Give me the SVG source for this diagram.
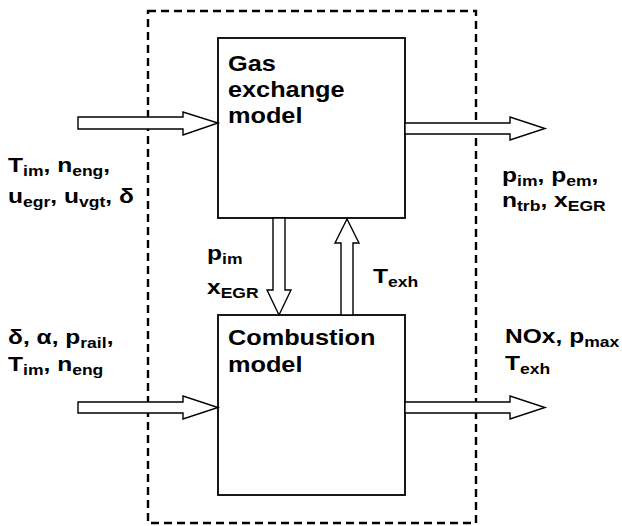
<svg xmlns="http://www.w3.org/2000/svg" width="622" height="526" viewBox="0 0 622 526">
<style>
.box{fill:#fff;stroke:#000;stroke-width:1.8}
.arr{fill:#fff;stroke:#000;stroke-width:1.4;stroke-linejoin:miter}
.bnd{fill:none;stroke:#000;stroke-width:2.4;stroke-dasharray:8 5}
text{font-family:"Liberation Sans",Arial,sans-serif;font-weight:bold;fill:#000}
.bl{font-size:22px}
.lb{font-size:21px}
.s{font-size:15px}
</style>
<rect class="bnd" x="148" y="11" width="328" height="512"/>
<g id="gas">
<rect class="box" x="218" y="38" width="187" height="180"/>
<text class="bl" transform="translate(228,71) scale(1.15,1)">Gas</text>
<text class="bl" transform="translate(228,97) scale(1.15,1)">exchange</text>
<text class="bl" transform="translate(228,123) scale(1.15,1)">model</text>
</g>
<g id="comb">
<rect class="box" x="218" y="315" width="187" height="180"/>
<text class="bl" transform="translate(228,345) scale(1.15,1)">Combustion</text>
<text class="bl" transform="translate(228,372) scale(1.15,1)">model</text>
</g>
<g id="connectors">
<polygon class="arr" points="78,117 183,117 183,112 218,123 183,135 183,129 78,129"/>
<polygon class="arr" points="405,123 510,123 510,117 545,128.5 510,140 510,134 405,134"/>
<polygon class="arr" points="273,218 285,218 285,290 291,290 279,315 267,290 273,290"/>
<polygon class="arr" points="341,315 353,315 353,243 359,243 347,219 335,243 341,243"/>
<polygon class="arr" points="78,402 183,402 183,396 218,407.5 183,419 183,413 78,413"/>
<polygon class="arr" points="405,402 510,402 510,396 545,407.5 510,419 510,413 405,413"/>
</g>
<g id="labels">
<text class="lb" transform="translate(8,172) scale(1.17,1)">T<tspan class="s" dy="4">im</tspan><tspan dy="-4">, n</tspan><tspan class="s" dy="4">eng</tspan><tspan dy="-4">,</tspan></text>
<text class="lb" transform="translate(8,203) scale(1.17,1)">u<tspan class="s" dy="4">egr</tspan><tspan dy="-4">, u</tspan><tspan class="s" dy="4">vgt</tspan><tspan dy="-4">, δ</tspan></text>
<text class="lb" transform="translate(502,182) scale(1.17,1)">p<tspan class="s" dy="4">im</tspan><tspan dy="-4">, p</tspan><tspan class="s" dy="4">em</tspan><tspan dy="-4">,</tspan></text>
<text class="lb" transform="translate(502,207) scale(1.17,1)">n<tspan class="s" dy="4">trb</tspan><tspan dy="-4">, x</tspan><tspan class="s" dy="4">EGR</tspan></text>
<text class="lb" transform="translate(207,260) scale(1.17,1)">p<tspan class="s" dy="4">im</tspan></text>
<text class="lb" transform="translate(207,294) scale(1.17,1)">x<tspan class="s" dy="4">EGR</tspan></text>
<text class="lb" transform="translate(373,283) scale(1.17,1)">T<tspan class="s" dy="4">exh</tspan></text>
<text class="lb" transform="translate(8,344) scale(1.17,1)">δ, α, p<tspan class="s" dy="4">rail</tspan><tspan dy="-4">,</tspan></text>
<text class="lb" transform="translate(8,371) scale(1.17,1)">T<tspan class="s" dy="4">im</tspan><tspan dy="-4">, n</tspan><tspan class="s" dy="4">eng</tspan></text>
<text class="lb" transform="translate(505,343) scale(1.17,1)">NOx, p<tspan class="s" dy="4">max</tspan></text>
<text class="lb" transform="translate(505,370) scale(1.17,1)">T<tspan class="s" dy="4">exh</tspan></text>
</g>
</svg>
